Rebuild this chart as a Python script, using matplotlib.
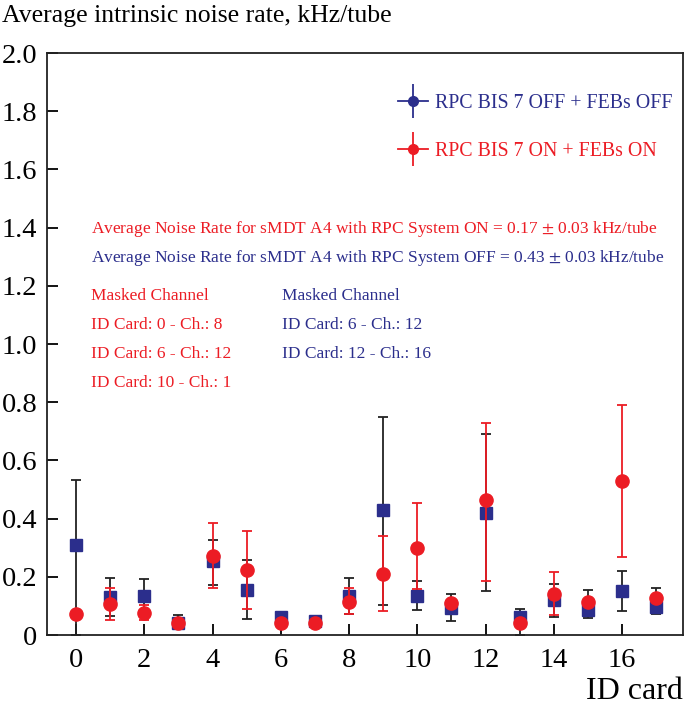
import numpy as np
import matplotlib
matplotlib.use("Agg")
import matplotlib.pyplot as plt
from matplotlib.lines import Line2D

plt.rcParams['font.family'] = ['Liberation Serif', 'DejaVu Serif']
plt.rcParams['mathtext.fontset'] = 'stix'

id_card = np.arange(18)

# RPC BIS 7 OFF + FEBs OFF (blue squares, black error bars)
off_val = [0.31, 0.131, 0.133, 0.043, 0.255, 0.154, 0.061, 0.049, 0.133, 0.429,
           0.134, 0.094, 0.419, 0.062, 0.12, 0.087, 0.15, 0.098]
off_up = [0.224, 0.064, 0.059, 0.026, 0.072, 0.103, 0.005, 0.004, 0.062, 0.32,
          0.05, 0.047, 0.272, 0.028, 0.054, 0.067, 0.071, 0.062]
off_lo = [0.31, 0.064, 0.06, 0.024, 0.084, 0.098, 0.005, 0.004, 0.062, 0.325,
          0.048, 0.047, 0.267, 0.062, 0.058, 0.028, 0.069, 0.026]

# RPC BIS 7 ON + FEBs ON (red circles)
on_val = [0.071, 0.106, 0.074, 0.042, 0.272, 0.225, 0.042, 0.04, 0.113, 0.211,
          0.30, 0.11, 0.463, 0.041, 0.141, 0.112, 0.531, 0.128]
on_up = [0.0, 0.057, 0.028, 0.01, 0.113, 0.134, 0.005, 0.005, 0.047, 0.128,
         0.154, 0.012, 0.266, 0.01, 0.075, 0.01, 0.261, 0.01]
on_lo = [0.0, 0.055, 0.023, 0.01, 0.112, 0.135, 0.005, 0.005, 0.042, 0.128,
         0.143, 0.012, 0.276, 0.01, 0.071, 0.01, 0.264, 0.01]

blue = "#2b2e8c"
red = "#ec1c24"

fig = plt.figure(figsize=(6.85, 7.1), dpi=100)
ax = fig.add_axes([0.069, 0.1056, 0.928, 0.8197])

ax.errorbar(id_card, off_val, yerr=[off_lo, off_up], fmt='s', color=blue,
            ecolor='#222222', elinewidth=1.3, capsize=3.5, capthick=1.3,
            markersize=8, zorder=3)
ax.errorbar(id_card, on_val, yerr=[on_lo, on_up], fmt='o', color=red,
            ecolor=red, elinewidth=1.3, capsize=3.5, capthick=1.3,
            markersize=9.5, zorder=4)

ax.set_xlim(-0.84, 17.78)
ax.set_ylim(0, 2.0)
ax.set_xticks(np.arange(0, 17, 2))
ax.set_yticks(np.arange(0, 2.01, 0.2))
ax.set_yticklabels(["0"] + ["%.1f" % v for v in np.arange(0.2, 2.01, 0.2)])
ax.tick_params(direction='in', length=8, width=1.3, labelsize=20.5, pad=7)
ax.tick_params(axis='x', pad=9)
for s in ax.spines.values():
    s.set_linewidth(1.3)
    s.set_color('#222222')

fig.text(0.003, 0.993, "Average intrinsic noise rate, kHz/tube", fontsize=18.5,
         ha='left', va='top')
fig.text(0.997, 0.006, "ID card", fontsize=23, ha='right', va='bottom')

h_off = (Line2D([], [], color=blue, marker='o', markersize=7, lw=1.3),
         Line2D([], [], color=blue, marker='|', markersize=24, mew=1.3, ls='none'))
h_on = (Line2D([], [], color=red, marker='o', markersize=7, lw=1.3),
        Line2D([], [], color=red, marker='|', markersize=24, mew=1.3, ls='none'))
leg = ax.legend([h_off, h_on], ["RPC BIS 7 OFF + FEBs OFF", "RPC BIS 7 ON + FEBs ON"],
                loc='upper right', bbox_to_anchor=(1.012, 0.96), frameon=False,
                fontsize=14.3, handlelength=1.5, handletextpad=0.35, labelspacing=1.45)
for t, c in zip(leg.get_texts(), [blue, red]):
    t.set_color(c)

ann = 12.5
ax.text(0.44, 1.395, "Average Noise Rate for sMDT A4 with RPC System ON = 0.17 $\\pm$ 0.03 kHz/tube",
        color=red, fontsize=ann, va='center')
ax.text(0.44, 1.296, "Average Noise Rate for sMDT A4 with RPC System OFF = 0.43 $\\pm$ 0.03 kHz/tube",
        color=blue, fontsize=ann, va='center')

red_notes = ["Masked Channel", "ID Card: 0 - Ch.: 8", "ID Card: 6 - Ch.: 12", "ID Card: 10 - Ch.: 1"]
blue_notes = ["Masked Channel", "ID Card: 6 - Ch.: 12", "ID Card: 12 - Ch.: 16"]
for i, s in enumerate(red_notes):
    ax.text(0.44, 1.165 - i * 0.0995, s, color=red, fontsize=ann, va='center')
for i, s in enumerate(blue_notes):
    ax.text(6.05, 1.165 - i * 0.0995, s, color=blue, fontsize=ann, va='center')

fig.savefig("out.png", dpi=100)
